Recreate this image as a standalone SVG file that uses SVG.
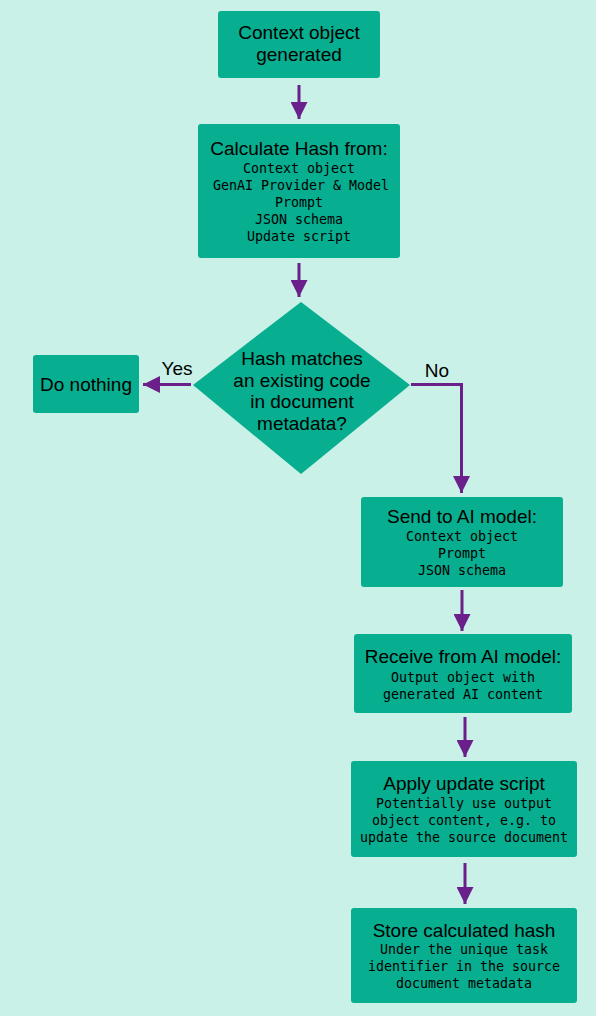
<svg xmlns="http://www.w3.org/2000/svg" width="596" height="1016" viewBox="0 0 596 1016">
<style>
.node{fill:#07ae8f;}
.t{font-family:"Liberation Sans",Arial,sans-serif;font-size:19px;fill:#000;text-anchor:middle;}
.m{font-family:"DejaVu Sans Mono","Liberation Mono",monospace;font-size:13.3px;fill:#000;text-anchor:middle;}
.c{fill:none;stroke:#6a1f8a;stroke-width:3;}
</style>
<defs>
<marker id="ah" markerUnits="userSpaceOnUse" markerWidth="17" markerHeight="17" refX="17" refY="8.5" orient="auto">
<path d="M0,0 L17,8.5 L0,17 z" fill="#6a1f8a"/>
</marker>
</defs>
<rect width="596" height="1016" fill="#c9f1e7"/>
<g id="connectors">
<line class="c" x1="299" y1="85" x2="299" y2="119" marker-end="url(#ah)"/>
<line class="c" x1="299" y1="263" x2="299" y2="297" marker-end="url(#ah)"/>
<line class="c" x1="191" y1="384.5" x2="143" y2="384.5" marker-end="url(#ah)"/>
<polyline class="c" points="411,384.5 461.5,384.5 461.5,493" marker-end="url(#ah)"/>
<line class="c" x1="462" y1="590" x2="462" y2="631" marker-end="url(#ah)"/>
<line class="c" x1="465" y1="717" x2="465" y2="757" marker-end="url(#ah)"/>
<line class="c" x1="465" y1="863" x2="465" y2="904" marker-end="url(#ah)"/>
<text class="t" x="177" y="375">Yes</text>
<text class="t" x="437" y="377">No</text>
</g>
<g id="n1">
<rect class="node" x="218" y="11" width="162" height="67" rx="3"/>
<text class="t" x="299" y="39">Context object</text>
<text class="t" x="299" y="61">generated</text>
</g>
<g id="n2">
<rect class="node" x="198" y="124" width="202" height="134" rx="3"/>
<text class="t" x="299" y="155">Calculate Hash from:</text>
<text class="m" x="299" y="173">Context object</text>
<text class="m" x="301" y="190">GenAI Provider &amp; Model</text>
<text class="m" x="299" y="207">Prompt</text>
<text class="m" x="299" y="224">JSON schema</text>
<text class="m" x="299" y="241">Update script</text>
</g>
<g id="n3">
<polygon class="node" points="301,302 410,385 301,474 193,385"/>
<text class="t" x="302" y="365">Hash matches</text>
<text class="t" x="302" y="387">an existing code</text>
<text class="t" x="302" y="408">in document</text>
<text class="t" x="302" y="430">metadata?</text>
</g>
<g id="n4">
<rect class="node" x="33" y="355" width="106" height="58" rx="3"/>
<text class="t" x="86" y="391">Do nothing</text>
</g>
<g id="n5">
<rect class="node" x="361" y="497" width="202" height="90" rx="3"/>
<text class="t" x="462" y="523">Send to AI model:</text>
<text class="m" x="462" y="541">Context object</text>
<text class="m" x="462" y="558">Prompt</text>
<text class="m" x="462" y="575">JSON schema</text>
</g>
<g id="n6">
<rect class="node" x="354" y="634" width="218" height="79" rx="3"/>
<text class="t" x="463" y="663">Receive from AI model:</text>
<text class="m" x="463" y="682">Output object with</text>
<text class="m" x="463" y="699">generated AI content</text>
</g>
<g id="n7">
<rect class="node" x="351" y="761" width="226" height="96" rx="3"/>
<text class="t" x="464" y="790">Apply update script</text>
<text class="m" x="464" y="808">Potentially use output</text>
<text class="m" x="464" y="825">object content, e.g. to</text>
<text class="m" x="464" y="842">update the source document</text>
</g>
<g id="n8">
<rect class="node" x="351" y="908" width="226" height="95" rx="3"/>
<text class="t" x="464" y="937">Store calculated hash</text>
<text class="m" x="464" y="954">Under the unique task</text>
<text class="m" x="464" y="971">identifier in the source</text>
<text class="m" x="464" y="988">document metadata</text>
</g>
</svg>
